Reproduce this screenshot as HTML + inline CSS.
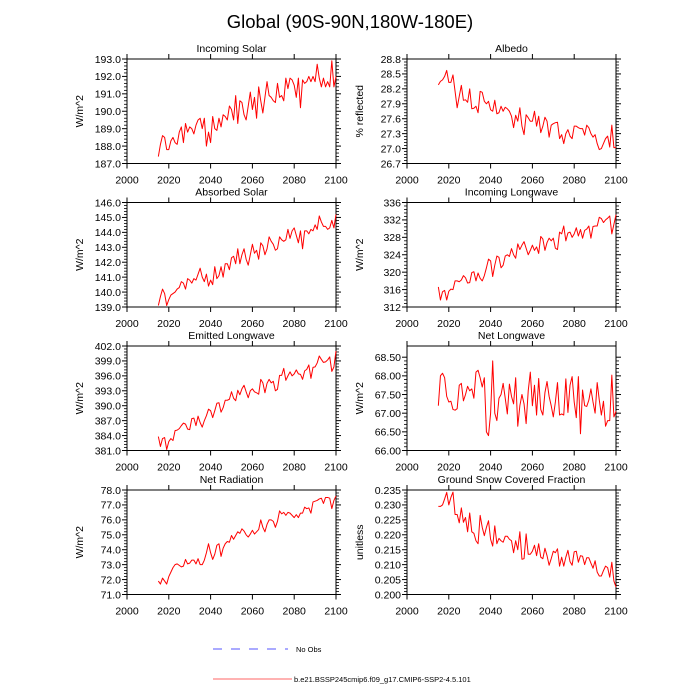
<!DOCTYPE html>
<html><head><meta charset="utf-8"><style>
html,body{margin:0;padding:0;background:#fff;}
svg{display:block;font-family:"Liberation Sans",Arial,sans-serif;}
</style></head><body>
<svg id="chart" width="700" height="700" viewBox="0 0 700 700" xmlns="http://www.w3.org/2000/svg">
<text x="350" y="28" text-anchor="middle" font-size="18.5">Global (90S-90N,180W-180E)</text>
<g>
<line x1="213" y1="649" x2="288" y2="649" stroke="#5555ff" stroke-width="1.1" stroke-dasharray="9,9"/>
<text x="296" y="652" font-size="7.5">No Obs</text>
<line x1="213" y1="679" x2="292" y2="679" stroke="#ff6666" stroke-width="1"/>
<text x="294" y="682" font-size="7.5">b.e21.BSSP245cmip6.f09_g17.CMIP6-SSP2-4.5.101</text>
</g>
</svg>
<script>
const startYear = 2015;
const incomingSolar = [187.4,188.1,188.6,188.5,187.8,187.8,188.3,188.5,188.2,188.1,188.8,189.1,188.2,189.3,188.8,189.1,189.0,188.7,189.2,189.5,189.6,189.0,189.6,188.0,188.8,188.2,189.7,189.0,188.9,189.6,189.1,189.8,189.7,189.5,190.3,190.1,189.5,190.9,189.3,190.6,190.5,189.8,189.5,190.3,191.1,190.1,190.8,189.6,191.4,190.6,189.9,190.8,191.7,190.9,190.8,190.6,190.5,191.6,190.8,190.9,190.6,191.9,191.3,191.9,191.8,191.5,190.8,191.9,190.2,191.8,191.6,191.7,192.0,191.7,192.0,191.7,192.7,191.9,191.4,191.9,191.4,191.7,191.4,192.9,191.4,192.0];
const albedo = [28.28,28.35,28.38,28.45,28.57,28.33,28.33,28.48,28.15,27.82,28.05,28.27,27.97,27.98,27.93,28.20,27.80,27.81,27.85,27.72,28.15,28.13,27.95,27.90,27.95,27.78,27.75,27.97,27.70,27.72,27.85,27.75,27.83,27.80,27.75,27.65,27.42,27.67,27.55,27.82,27.45,27.28,27.68,27.62,27.55,27.55,27.75,27.45,27.65,27.32,27.45,27.63,27.55,27.23,27.47,27.50,27.52,27.53,27.20,27.28,27.10,27.30,27.38,27.25,27.20,27.45,27.45,27.42,27.40,27.40,27.27,27.47,27.42,27.30,27.23,27.28,27.10,26.98,27.00,27.10,27.20,27.25,27.03,27.47,27.02,27.02];
const absorbedSolar = [139.1,139.7,140.2,139.9,139.1,139.5,139.8,139.9,140.0,140.2,140.3,140.7,140.6,140.2,140.9,140.8,140.6,140.9,140.8,141.2,141.6,141.0,140.7,141.2,140.4,140.8,140.5,141.7,140.9,141.1,141.7,141.0,141.9,141.9,141.5,142.3,142.4,141.9,142.9,141.9,142.5,142.9,142.2,141.8,142.5,143.2,142.6,142.8,142.2,143.3,143.1,142.5,142.9,143.7,143.4,143.2,142.8,142.9,143.7,143.5,143.4,143.5,144.2,143.6,144.1,144.3,143.8,143.3,144.1,142.9,144.1,144.1,143.9,144.2,144.1,144.5,144.2,145.1,144.7,144.4,144.4,144.2,144.3,144.8,144.3,145.2];
const incomingLongwave = [316.6,313.6,315.5,315.8,313.6,315.6,316.1,316.0,318.0,318.0,317.8,318.2,319.2,318.7,317.5,317.6,319.9,320.1,318.0,319.8,318.6,318.0,319.2,321.0,323.0,322.6,319.0,321.6,323.7,323.4,321.0,321.6,323.7,324.0,323.6,325.4,324.0,323.2,326.5,325.2,326.2,327.0,325.5,324.0,325.0,326.2,325.0,325.8,324.3,328.2,327.6,325.0,326.8,327.8,327.2,327.8,325.5,325.2,329.2,328.8,330.6,327.2,329.0,329.2,328.0,328.8,330.2,328.3,329.8,327.8,329.6,329.9,330.6,327.8,330.5,330.6,330.6,332.6,332.3,331.4,332.0,332.4,332.9,328.8,331.0,333.2];
const emittedLongwave = [383.8,381.8,383.4,383.6,381.2,382.8,383.4,383.0,385.0,385.1,385.4,386.0,386.5,386.3,385.3,385.2,387.4,387.5,386.0,387.9,386.6,385.7,387.0,388.0,389.3,389.0,387.6,389.0,390.5,390.6,388.7,389.6,391.1,391.1,391.3,392.8,391.5,391.0,393.1,392.2,393.4,394.1,392.8,391.6,393.0,393.4,392.8,392.6,392.3,395.3,394.6,392.6,394.5,395.3,394.6,394.9,393.0,393.3,396.1,396.1,397.5,395.1,396.0,396.8,396.0,396.4,397.2,396.4,396.3,395.3,397.0,397.3,398.2,395.5,397.7,397.8,398.6,400.0,399.3,398.7,398.8,399.2,399.8,396.9,397.8,401.0];
const netLongwave = [67.2,68.0,68.07,67.95,67.45,67.3,67.32,67.1,67.08,67.12,67.75,67.8,67.33,67.5,67.72,67.6,67.65,67.4,68.1,68.15,67.95,67.7,67.95,66.5,66.4,67.0,68.4,67.0,66.8,67.4,67.5,67.8,67.4,66.98,67.78,67.45,67.25,67.95,66.65,67.2,67.5,67.25,66.72,67.6,68.1,67.2,67.75,66.95,67.93,67.1,66.95,67.55,67.85,67.45,67.2,66.9,67.3,67.82,66.95,66.98,66.95,67.92,67.02,67.75,67.98,67.3,66.88,67.98,66.45,67.62,67.2,67.18,67.35,67.65,67.3,67.0,67.82,67.35,66.95,67.32,66.65,66.8,66.8,68.02,66.9,67.05];
const netRadiation = [71.9,71.7,72.1,71.9,71.7,72.2,72.5,72.8,73.0,73.05,72.95,72.85,72.9,73.35,73.05,73.1,73.3,73.3,73.05,73.4,73.0,73.0,73.3,73.8,74.4,73.8,73.35,73.7,74.3,74.4,73.55,74.1,74.4,74.55,74.5,74.95,74.7,74.95,75.2,75.1,75.4,75.25,75.0,74.85,75.05,75.3,75.05,75.2,75.35,76.0,75.5,75.2,75.7,76.0,76.0,75.9,75.5,75.9,76.6,76.4,76.5,76.3,76.5,76.45,76.3,76.15,76.35,76.15,76.45,76.45,76.85,76.75,76.8,76.45,77.2,77.25,77.3,77.4,77.45,77.1,77.5,77.5,77.45,76.75,77.3,77.6];
const snowFraction = [0.2295,0.2295,0.2300,0.2320,0.2342,0.2300,0.2325,0.2343,0.2268,0.2268,0.2240,0.2290,0.2242,0.2258,0.2210,0.2273,0.2210,0.2205,0.2180,0.2170,0.2265,0.2225,0.2197,0.2225,0.2247,0.2185,0.2162,0.2230,0.2170,0.2188,0.2180,0.2175,0.2195,0.2195,0.2185,0.2180,0.2140,0.2180,0.2150,0.2210,0.2118,0.2120,0.2203,0.2135,0.2135,0.2145,0.2165,0.2130,0.2170,0.2125,0.2120,0.2155,0.2130,0.2098,0.2120,0.2145,0.2140,0.2153,0.2095,0.2125,0.2095,0.2125,0.2148,0.2110,0.2098,0.2143,0.2145,0.2108,0.2130,0.2128,0.2100,0.2123,0.2123,0.2105,0.2088,0.2113,0.2075,0.2062,0.2062,0.2080,0.2095,0.2090,0.2058,0.2108,0.2045,0.2025];
const xTicks = [2000,2020,2040,2060,2080,2100];
const ticksIncomingSolar = ["187.0","188.0","189.0","190.0","191.0","192.0","193.0"];
const ticksAlbedo = ["26.7","27.0","27.3","27.6","27.9","28.2","28.5","28.8"];
const ticksAbsorbed = ["139.0","140.0","141.0","142.0","143.0","144.0","145.0","146.0"];
const ticksIncLW = ["312","316","320","324","328","332","336"];
const ticksEmitted = ["381.0","384.0","387.0","390.0","393.0","396.0","399.0","402.0"];
const ticksNetLW = ["66.00","66.50","67.00","67.50","68.00","68.50"];
const ticksNetRad = ["71.0","72.0","73.0","74.0","75.0","76.0","77.0","78.0"];
const ticksSnow = ["0.200","0.205","0.210","0.215","0.220","0.225","0.230","0.235"];

const NS = "http://www.w3.org/2000/svg";
const svg = document.getElementById('chart');
function mk(tag, attrs, parent){ const e=document.createElementNS(NS,tag); for(const k in attrs) e.setAttribute(k,attrs[k]); (parent||svg).appendChild(e); return e; }

const panels = [
 {key:'incoming-solar',title:'Incoming Solar',ylab:'W/m^2',data:incomingSolar,ticks:ticksIncomingSolar,ymin:187,ymax:193,col:0,row:0},
 {key:'albedo',title:'Albedo',ylab:'% reflected',data:albedo,ticks:ticksAlbedo,ymin:26.7,ymax:28.8,col:1,row:0},
 {key:'absorbed-solar',title:'Absorbed Solar',ylab:'W/m^2',data:absorbedSolar,ticks:ticksAbsorbed,ymin:139,ymax:146,col:0,row:1},
 {key:'incoming-longwave',title:'Incoming Longwave',ylab:'W/m^2',data:incomingLongwave,ticks:ticksIncLW,ymin:312,ymax:336,col:1,row:1},
 {key:'emitted-longwave',title:'Emitted Longwave',ylab:'W/m^2',data:emittedLongwave,ticks:ticksEmitted,ymin:381,ymax:402,col:0,row:2},
 {key:'net-longwave',title:'Net Longwave',ylab:'W/m^2',data:netLongwave,ticks:ticksNetLW,ymin:66,ymax:68.8,col:1,row:2},
 {key:'net-radiation',title:'Net Radiation',ylab:'W/m^2',data:netRadiation,ticks:ticksNetRad,ymin:71,ymax:78,col:0,row:3},
 {key:'snow-fraction',title:'Ground Snow Covered Fraction',ylab:'unitless',data:snowFraction,ticks:ticksSnow,ymin:0.2,ymax:0.235,col:1,row:3}
];
const lefts=[127,407], tops=[59,202.5,346,490], W=209, H=104.5;

panels.forEach(p=>{
  const L=lefts[p.col], T=tops[p.row], R=L+W, B=T+H;
  const g=mk('g',{});
  
  
  const xs=v=>L+(v-2000)/100*W;
  const ys=v=>B-(v-p.ymin)/(p.ymax-p.ymin)*H;
  const t=mk('text',{x:(L+R)/2,y:T-7,'text-anchor':'middle','font-size':'10.5'},g); t.textContent=p.title;
  
  
  const yl=mk('text',{x:0,y:0,'text-anchor':'middle','font-size':'10.5',transform:`translate(${L-44},${(T+B)/2}) rotate(-90)`},g); yl.textContent=p.ylab;
  
  
  const nT=p.ticks.length;
  for(let i=0;i<nT;i++){
    const v=parseFloat(p.ticks[i]); const y=ys(v);
    mk('line',{x1:L-5,y1:y,x2:L,y2:y,stroke:'#000','stroke-width':1},g);
    mk('line',{x1:R,y1:y,x2:R+5,y2:y,stroke:'#000','stroke-width':1},g);
    const tl=mk('text',{x:L-6,y:y+3.8,'text-anchor':'end','font-size':'10.5'},g); tl.textContent=p.ticks[i];
    
    
    if(i<nT-1){
      const step=parseFloat(p.ticks[1])-parseFloat(p.ticks[0]);
      for(let k=1;k<5;k++){ const ym=ys(v+step*k/5); if(ym<T-0.5) break;
        mk('line',{x1:L-3,y1:ym,x2:L,y2:ym,stroke:'#000','stroke-width':0.8},g);
        mk('line',{x1:R,y1:ym,x2:R+3,y2:ym,stroke:'#000','stroke-width':0.8},g);}
    }
  }
  xTicks.forEach(v=>{
    const x=xs(v);
    mk('line',{x1:x,y1:B,x2:x,y2:B+5,stroke:'#000','stroke-width':1},g);
    mk('line',{x1:x,y1:T-5,x2:x,y2:T,stroke:'#000','stroke-width':1},g);
    const xl=mk('text',{x:x,y:B+20,'text-anchor':'middle','font-size':'10.5'},g); xl.textContent=String(v);
    
    
  });
  const fr=mk('rect',{x:L,y:T,width:W,height:H,fill:'none',stroke:'#000','stroke-width':1},g);
  
  
  const pts=p.data.map((v,i)=>xs(startYear+i).toFixed(2)+','+ys(v).toFixed(2)).join(' ');
  const pl=mk('polyline',{points:pts,fill:'none',stroke:'#ff0000','stroke-width':1,'stroke-linejoin':'round'},g);
  
  
});
</script>
</body></html>
